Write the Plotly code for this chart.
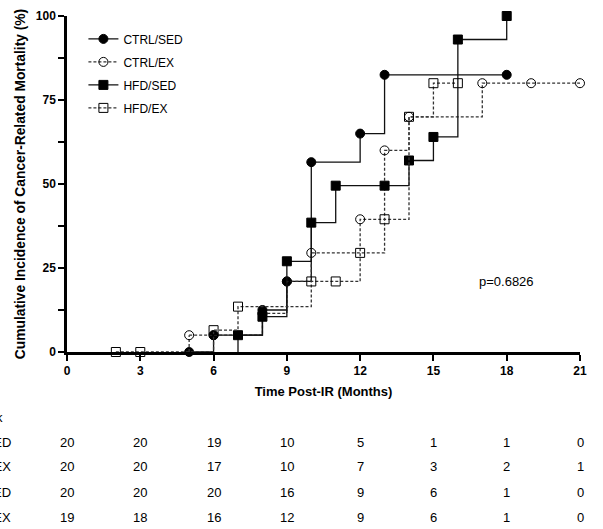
import plotly.graph_objects as go

# ---------------- data ----------------
months_ticks = [0, 3, 6, 9, 12, 15, 18, 21]

ctrl_sed_start = (5, 0)
ctrl_sed_x = [5, 6, 8, 9, 10, 12, 13, 18]
ctrl_sed_y = [0, 5, 12.5, 21, 56.5, 65, 82.5, 82.5]

ctrl_ex_start = (5, 0)
ctrl_ex_x = [5, 6, 8, 9, 10, 12, 13, 14, 17, 19, 21]
ctrl_ex_y = [5, 5, 11.5, 21, 29.5, 39.5, 60, 70, 80, 80, 80]

hfd_sed_start = (7, 0)
hfd_sed_x = [7, 8, 9, 10, 11, 13, 14, 15, 16, 18]
hfd_sed_y = [5, 10.5, 27, 38.5, 49.5, 49.5, 57, 64, 93, 100]

hfd_ex_start = (2, 0)
hfd_ex_x = [2, 3, 6, 7, 10, 11, 12, 13, 14, 15, 16]
hfd_ex_y = [0, 0, 6.5, 13.5, 21, 21, 29.5, 39.5, 70, 80, 80]

risk_labels = ["CTRL/SED", "CTRL/EX", "HFD/SED", "HFD/EX"]
risk_ctrl_sed = [20, 20, 19, 10, 5, 1, 1, 0]
risk_ctrl_ex = [20, 20, 17, 10, 7, 3, 2, 1]
risk_hfd_sed = [20, 20, 20, 16, 9, 6, 1, 0]
risk_hfd_ex = [19, 18, 16, 12, 9, 6, 1, 0]

p_text = "p=0.6826"

# ---------------- styles ----------------
FONT = "Arial, 'Liberation Sans', Helvetica, sans-serif"
series = [
    ("CTRL/SED", ctrl_sed_start, ctrl_sed_x, ctrl_sed_y, "circle", "solid", "#111111"),
    ("CTRL/EX", ctrl_ex_start, ctrl_ex_x, ctrl_ex_y, "circle-open", "3px,2px", "#333333"),
    ("HFD/SED", hfd_sed_start, hfd_sed_x, hfd_sed_y, "square", "solid", "#111111"),
    ("HFD/EX", hfd_ex_start, hfd_ex_x, hfd_ex_y, "square-open", "3px,2px", "#333333"),
]

fig = go.Figure()
for i, (name, start, xs, ys, sym, dash, col) in enumerate(series):
    fig.add_trace(go.Scatter(
        x=[start[0], xs[0]], y=[start[1], ys[0]], mode="lines",
        line=dict(color=col, width=1.3, dash=dash, shape="hv"),
        showlegend=False, hoverinfo="skip", cliponaxis=False))
    fig.add_trace(go.Scatter(
        x=xs, y=ys, name=name, mode="lines+markers",
        line=dict(color=col, width=1.3, dash=dash, shape="hv"),
        marker=dict(symbol=sym, size=9, color="black",
                    line=dict(color="black", width=1)),
        legendgroup=name, cliponaxis=False))

fig.update_layout(
    width=603, height=529,
    margin=dict(l=67, r=23, t=16, b=177, autoexpand=False),
    paper_bgcolor="white", plot_bgcolor="white",
    font=dict(family=FONT, color="black", size=12),
    showlegend=True,
    legend=dict(x=0.032, y=0.975, xanchor="left", yanchor="top",
                bgcolor="rgba(0,0,0,0)", font=dict(size=12, family=FONT),
                traceorder="grouped", tracegroupgap=4, itemwidth=30),
)

fig.update_xaxes(
    range=[0, 21], tickvals=months_ticks, ticktext=[str(v) for v in months_ticks],
    showline=True, linewidth=2.5, linecolor="black", mirror=False,
    ticks="outside", ticklen=6, tickwidth=2, tickcolor="black",
    showgrid=False, zeroline=False, automargin=False,
    tickfont=dict(size=12, family=FONT, weight="bold"),
    title=dict(text="Time Post-IR (Months)", standoff=10,
               font=dict(size=13, family=FONT, weight="bold")),
)
fig.update_yaxes(
    range=[0, 100], tickvals=[0, 25, 50, 75, 100],
    showline=True, linewidth=2.5, linecolor="black",
    ticks="outside", ticklen=6, tickwidth=2, tickcolor="black",
    minor=dict(tickvals=[12.5, 37.5, 62.5, 87.5], ticks="outside", ticklen=6,
               tickwidth=2, tickcolor="black"),
    showgrid=False, zeroline=False, automargin=False,
    tickfont=dict(size=12, family=FONT, weight="bold"),
    title=dict(text="Cumulative Incidence of Cancer-Related Mortality (%)", standoff=7,
               font=dict(size=13.8, family=FONT, weight="bold")),
)

fig.add_annotation(x=18, y=21, xref="x", yref="y", text=p_text, showarrow=False,
                   font=dict(size=13, family=FONT))

plot_top, plot_bottom = 16, 352
def paper_y(py):
    return (plot_bottom - py) / (plot_bottom - plot_top)

fig.add_annotation(x=-0.12, y=paper_y(417), xref="paper", yref="paper",
                   text="Number at risk", showarrow=False, xanchor="right",
                   yanchor="middle", font=dict(size=13, family=FONT))
risk_rows = [risk_ctrl_sed, risk_ctrl_ex, risk_hfd_sed, risk_hfd_ex]
row_py = [442, 467, 492, 517]
for lab, vals, py in zip(risk_labels, risk_rows, row_py):
    fig.add_annotation(x=-0.105, y=paper_y(py), xref="paper", yref="paper",
                       text=lab, showarrow=False, xanchor="right", yanchor="middle",
                       font=dict(size=13, family=FONT))
    for t, v in zip(months_ticks, vals):
        fig.add_annotation(x=t, y=paper_y(py), xref="x", yref="paper",
                           text=str(v), showarrow=False, xanchor="center",
                           yanchor="middle", font=dict(size=13, family=FONT))

fig.write_html("out.html", config={"displayModeBar": False},
               post_script="document.body.style.margin='0';document.body.style.overflow='hidden';")
